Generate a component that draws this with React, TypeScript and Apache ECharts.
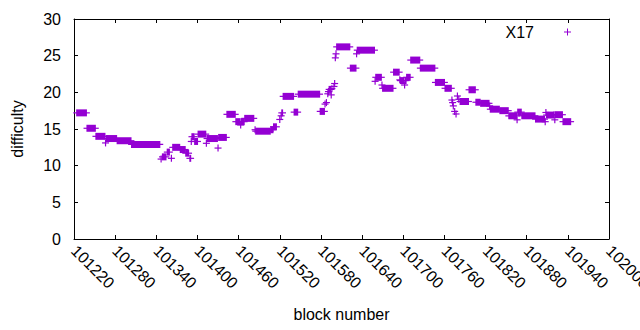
import React, { useEffect, useRef } from "react";
import * as echarts from "echarts";

// Runs of constant difficulty: first block, last block, difficulty
const runStart = [
  101224, 101239, 101252, 101266, 101267, 101283, 101304, 101347, 101349, 101356,
  101362, 101364, 101375, 101383, 101389, 101391, 101392, 101396, 101401, 101413,
  101414, 101430, 101431, 101443, 101456, 101463, 101464, 101469, 101484, 101485,
  101507, 101511, 101520, 101522, 101523, 101525, 101541, 101547, 101579, 101586,
  101588, 101590, 101591, 101592, 101595, 101596, 101599, 101600, 101601, 101602,
  101603, 101623, 101632, 101633, 101659, 101660, 101669, 101670, 101686, 101695,
  101696, 101702, 101703, 101705, 101711, 101725, 101747, 101761, 101771, 101772,
  101773, 101775, 101777, 101779, 101781, 101783, 101796, 101806, 101813, 101826,
  101827, 101841, 101854, 101866, 101867, 101873, 101893, 101907, 101908, 101909,
  101920, 101921, 101922, 101933,
];
const runEnd = [
  101238, 101251, 101265, 101266, 101282, 101303, 101345, 101347, 101354, 101359,
  101362, 101374, 101382, 101387, 101390, 101391, 101395, 101400, 101412, 101413,
  101429, 101430, 101442, 101455, 101462, 101463, 101468, 101482, 101484, 101506,
  101510, 101515, 101520, 101522, 101524, 101540, 101546, 101578, 101585, 101586,
  101588, 101590, 101591, 101594, 101595, 101596, 101599, 101600, 101601, 101602,
  101622, 101631, 101632, 101658, 101659, 101668, 101669, 101685, 101694, 101695,
  101701, 101702, 101704, 101710, 101724, 101746, 101760, 101770, 101771, 101772,
  101773, 101775, 101777, 101779, 101781, 101795, 101805, 101812, 101825, 101826,
  101840, 101853, 101865, 101866, 101872, 101892, 101906, 101907, 101908, 101919,
  101920, 101921, 101932, 101944,
];
const runValue = [
  17.2, 15.1, 14.0, 13.1, 13.7, 13.4, 12.9, 10.9, 11.2, 11.85,
  11.0, 12.5, 12.2, 11.7, 11.0, 13.3, 13.95, 13.3, 14.3, 13.05,
  13.7, 12.4, 13.85, 17.0, 16.0, 15.55, 16.0, 16.45, 14.9, 14.7,
  14.9, 15.3, 16.3, 16.8, 17.2, 19.45, 17.3, 19.75, 17.4, 18.4,
  18.6, 19.8, 20.1, 20.4, 19.65, 20.5, 20.8, 21.2, 24.7, 25.25,
  26.2, 23.3, 25.25, 25.75, 21.5, 22.05, 21.0, 20.55, 22.75, 21.7,
  21.6, 21.0, 21.6, 22.05, 24.4, 23.3, 21.35, 20.55, 18.95, 18.6,
  18.15, 17.4, 17.05, 19.5, 19.05, 18.75, 20.35, 18.65, 18.5, 18.15,
  17.7, 17.5, 16.8, 16.25, 17.3, 16.8, 16.35, 16.0, 17.25, 16.9,
  16.95, 16.25, 16.95, 16.0,
];

const seriesName = "X17";
const xMin = 101220;
const xMax = 102000;
const xStep = 60;
const yMin = 0;
const yMax = 30;
const yStep = 5;

const COLOR = "#9400D3";
const FONT = "Liberation Sans";

export default function App() {
  const ref = useRef<HTMLDivElement>(null);

  useEffect(() => {
    if (!ref.current) return;
    const chart = echarts.init(ref.current, undefined, { renderer: "svg", width: 640, height: 330 });
    const data = runStart.map((s, i) => [s, runEnd[i], runValue[i]]);

    const axisCommon = {
      type: "value" as const,
      axisLine: { show: true, onZero: false, lineStyle: { color: "#000", width: 1 } },
      axisTick: { show: true, inside: true, length: 4, lineStyle: { color: "#000", width: 1 } },
      splitLine: { show: false },
    };

    chart.setOption({
      animation: false,
      backgroundColor: "#fff",
      grid: { left: 74, right: 31, top: 19, bottom: 91, containLabel: false, outerBoundsMode: "none" },
      legend: {
        show: true,
        right: 69,
        top: 24,
        padding: 0,
        align: "right",
        itemWidth: 7,
        itemHeight: 7,
        data: [{ name: seriesName, icon: "path://M0,3H7V4H0ZM3,0H4V7H3Z" }],
        textStyle: { fontFamily: FONT, fontSize: 16, color: "#000", padding: [0, 25, 0, 0] },
      },
      xAxis: [
        {
          ...axisCommon,
          position: "bottom",
          min: xMin,
          max: xMax,
          interval: xStep,
          name: "block number",
          nameLocation: "middle",
          nameGap: 67,
          nameTextStyle: { fontFamily: FONT, fontSize: 16, color: "#000" },
          axisLabel: {
            rotate: -45,
            margin: 9,
            fontFamily: FONT,
            fontSize: 16,
            color: "#000",
            showMinLabel: true,
            showMaxLabel: true,
            hideOverlap: false,
            formatter: (v: number) => String(v),
          },
        },
        {
          ...axisCommon,
          position: "top",
          min: xMin,
          max: xMax,
          interval: xStep,
          axisLabel: { show: false },
        },
      ],
      yAxis: [
        {
          ...axisCommon,
          position: "left",
          min: yMin,
          max: yMax,
          interval: yStep,
          name: "difficulty",
          nameLocation: "middle",
          nameGap: 49,
          nameTextStyle: { fontFamily: FONT, fontSize: 16, color: "#000" },
          axisLabel: {
            margin: 13,
            fontFamily: FONT,
            fontSize: 16,
            color: "#000",
          },
        },
        {
          ...axisCommon,
          position: "right",
          min: yMin,
          max: yMax,
          interval: yStep,
          axisLabel: { show: false },
        },
      ],
      series: [
        {
          name: seriesName,
          type: "custom",
          xAxisIndex: 0,
          yAxisIndex: 0,
          itemStyle: { color: COLOR },
          encode: { x: [0, 1], y: 2 },
          data,
          renderItem: (params: any, api: any) => {
            const v = api.value(2);
            const s = api.coord([api.value(0), v]);
            const e = api.coord([api.value(1), v]);
            const half = 3.5;
            const stroke = 1.2;
            return {
              type: "group",
              children: [
                {
                  type: "rect",
                  shape: {
                    x: s[0] - stroke / 2,
                    y: s[1] - half,
                    width: e[0] - s[0] + stroke,
                    height: half * 2,
                  },
                  style: { fill: COLOR },
                },
                {
                  type: "rect",
                  shape: {
                    x: s[0] - half,
                    y: s[1] - stroke / 2,
                    width: e[0] - s[0] + half * 2,
                    height: stroke,
                  },
                  style: { fill: COLOR },
                },
              ],
            };
          },
        },
      ],
    });

    return () => chart.dispose();
  }, []);

  return (
    <div
      ref={ref}
      style={{ position: "fixed", left: 0, top: 0, width: 640, height: 330, background: "#fff" }}
    />
  );
}
